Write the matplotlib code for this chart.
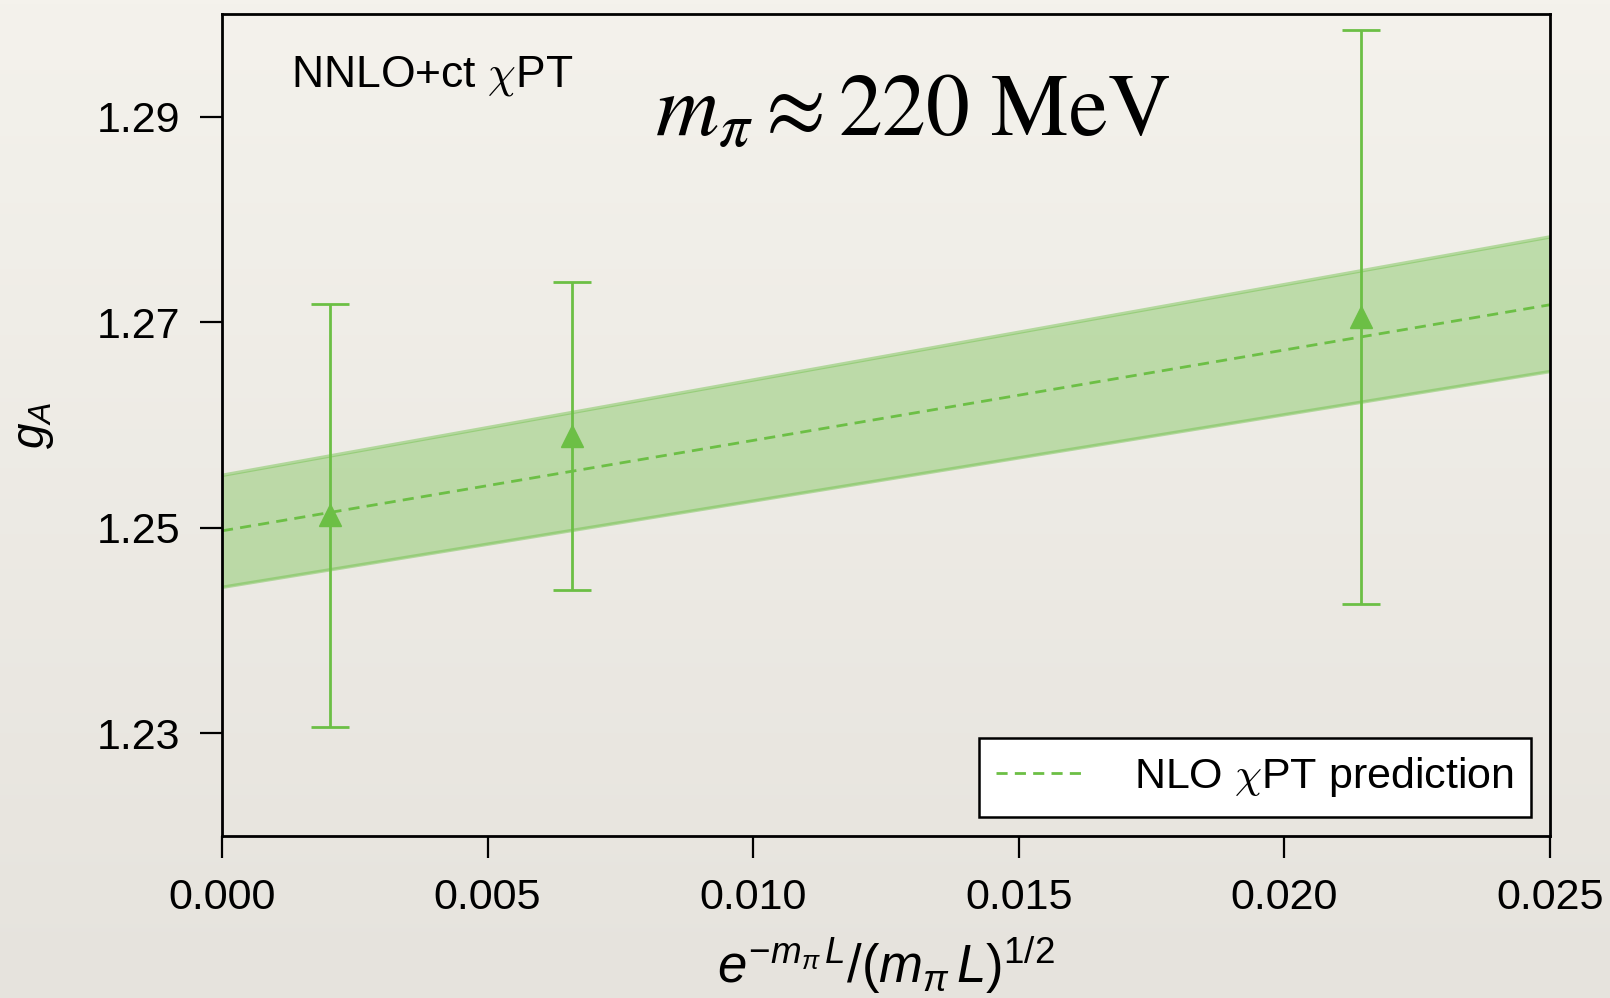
import numpy as np
import matplotlib
matplotlib.use("Agg")
import matplotlib.pyplot as plt

# lattice points at m_pi ~ 220 MeV
x_data = [0.00203, 0.00659, 0.02145]
gA = [1.2512, 1.2589, 1.2705]
gA_err = [0.0206, 0.0150, 0.0279]

# NLO chiPT prediction: central curve and band edges
x_fit = [0.0, 0.025]
gA_fit = [1.2497, 1.2717]
gA_lo = [1.2442, 1.2652]
gA_hi = [1.2551, 1.2783]

green = '#6cbf45'

plt.rcParams['font.family'] = ['Liberation Sans', 'DejaVu Sans']
plt.rcParams['mathtext.fontset'] = 'custom'
plt.rcParams['mathtext.rm'] = 'Liberation Sans'
plt.rcParams['mathtext.it'] = 'Liberation Sans:italic'
plt.rcParams['mathtext.bf'] = 'Liberation Sans:bold'

fig = plt.figure(figsize=(16.1, 9.98), dpi=100)

# paper-like backdrop, light at top, a touch darker at the bottom
bg = fig.add_axes([0, 0, 1, 1], zorder=-10)
top = np.array([244, 242, 236]) / 255.
bot = np.array([230, 227, 221]) / 255.
t = np.linspace(0, 1, 256)[:, None, None]
grad = top * (1 - t) + bot * t
bg.imshow(grad, aspect='auto', extent=[0, 1, 0, 1])
bg.axis('off')

ax = fig.add_axes([0.1379, 0.1623, 0.8248, 0.8237])
ax.patch.set_alpha(0)

ax.fill_between(x_fit, gA_lo, gA_hi, color=green, alpha=0.38, lw=0)
ax.plot(x_fit, gA_lo, color=green, alpha=0.45, lw=2.5)
ax.plot(x_fit, gA_hi, color=green, alpha=0.45, lw=2.5)
ax.plot(x_fit, gA_fit, '--', color=green, lw=2, dashes=(4, 2.6),
        label=r'NLO $\chi$PT prediction')

ax.errorbar(x_data, gA, yerr=gA_err, fmt='^', color=green, ms=16,
            elinewidth=2, capsize=13.5, capthick=2)

ax.set_xlim(0, 0.025)
ax.set_ylim(1.22, 1.30)
ax.set_xticks([0.0, 0.005, 0.010, 0.015, 0.020, 0.025])
ax.set_xticklabels(['0.000', '0.005', '0.010', '0.015', '0.020', '0.025'])
ax.set_yticks([1.23, 1.25, 1.27, 1.29])
ax.set_yticklabels(['1.23', '1.25', '1.27', '1.29'])
ax.tick_params(axis='both', direction='out', length=16, width=1.6,
               labelsize=31, pad=14)
for s in ax.spines.values():
    s.set_linewidth(2)

ax.set_xlabel(r'$e^{-m_\pi\, L}/(m_\pi\, L)^{1/2}$', fontsize=38, labelpad=12)
ax.set_ylabel(r'$g_A$', fontsize=33)
ax.yaxis.set_label_coords(-0.125, 0.5)

ax.text(0.052, 0.925, r'NNLO+ct $\chi$PT', transform=ax.transAxes,
        fontsize=32, math_fontfamily='cm', va='center')
ax.text(0.52, 0.88, r'$m_\pi \approx 220\ \mathrm{MeV}$', transform=ax.transAxes,
        fontsize=63, math_fontfamily='stix', ha='center', va='center')

leg = ax.legend(loc='lower right', fontsize=31, frameon=True, fancybox=False,
                framealpha=1, edgecolor='black', borderpad=0.4,
                handlelength=2.1, handletextpad=1.1, borderaxespad=0.45)
leg.get_frame().set_linewidth(1.8)
for t in leg.get_texts():
    t.set_math_fontfamily('cm')

fig.savefig('out.png', dpi=100)
